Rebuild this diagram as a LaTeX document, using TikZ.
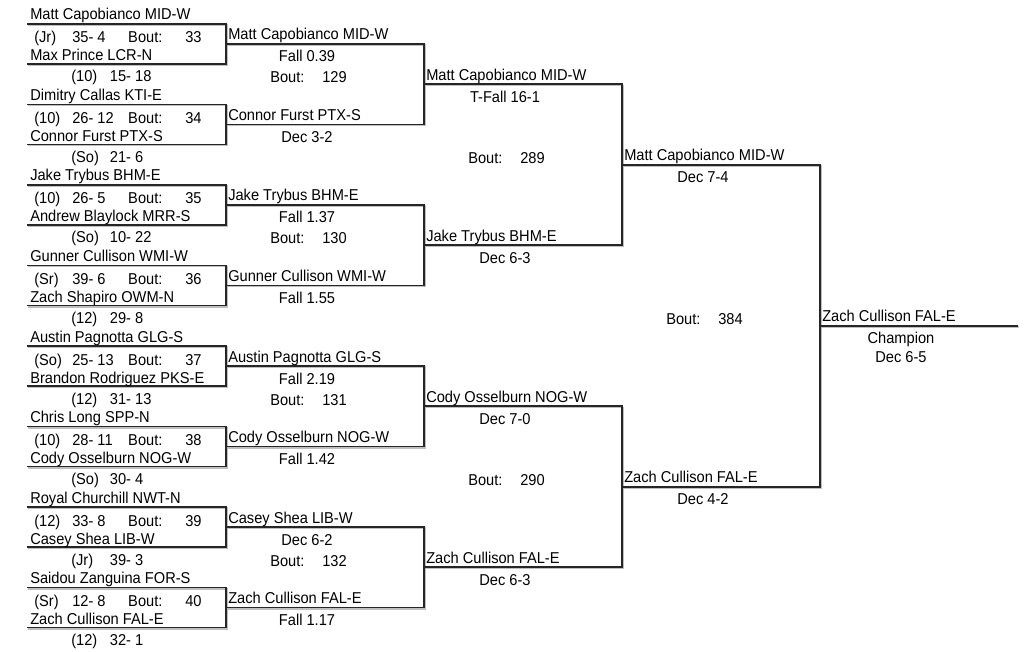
\documentclass[tikz,border=0pt]{standalone}
\usepackage{fontspec}
\setmainfont{Liberation Sans}[FakeStretch=0.93]
\usepackage{tikz}

\begin{document}
\begin{tikzpicture}[x=0.75pt, y=-0.75pt,
    every node/.style={font=\fontsize{11.8}{14}\selectfont, inner sep=0pt},
    nm/.style={anchor=base west},
    res/.style={anchor=base},
    brk/.style={draw=black!85, line width=1.2pt,
      preaction={draw=black!25, line width=1.2pt, transform canvas={shift={(1.2,1.2)}}}}]
    \useasboundingbox (0,0) rectangle (1024,652);
    % Slots
    \coordinate (p1) at (27,24);     \coordinate (p2) at (27,64);
    \coordinate (p3) at (27,104.5);  \coordinate (p4) at (27,144.5);
    \coordinate (p5) at (27,185);    \coordinate (p6) at (27,225);
    \coordinate (p7) at (27,265.5);  \coordinate (p8) at (27,305.5);
    \coordinate (p9) at (27,346);    \coordinate (p10) at (27,386);
    \coordinate (p11) at (27,426.5); \coordinate (p12) at (27,466.5);
    \coordinate (p13) at (27,507);   \coordinate (p14) at (27,547);
    \coordinate (p15) at (27,587.5); \coordinate (p16) at (27,627.5);
    \coordinate (q1) at (226,44);    \coordinate (q2) at (226,124.5);
    \coordinate (q3) at (226,205);   \coordinate (q4) at (226,285.5);
    \coordinate (q5) at (226,366);   \coordinate (q6) at (226,446.5);
    \coordinate (q7) at (226,527);   \coordinate (q8) at (226,607.5);
    \coordinate (r1) at (424,84.25); \coordinate (r2) at (424,245.25);
    \coordinate (r3) at (424,406.25);\coordinate (r4) at (424,567.25);
    \coordinate (s1) at (622,164.75);\coordinate (s2) at (622,486.75);
    \coordinate (f) at (820,325.75); \coordinate (fe) at (1018,325.75);
    % Lines
    \draw[brk] (p1) -| (q1) |- (p2);
    \draw[brk] (p3) -| (q2) |- (p4);
    \draw[brk] (p5) -| (q3) |- (p6);
    \draw[brk] (p7) -| (q4) |- (p8);
    \draw[brk] (p9) -| (q5) |- (p10);
    \draw[brk] (p11) -| (q6) |- (p12);
    \draw[brk] (p13) -| (q7) |- (p14);
    \draw[brk] (p15) -| (q8) |- (p16);
    \draw[brk] (q1) -| (r1) |- (q2);
    \draw[brk] (q3) -| (r2) |- (q4);
    \draw[brk] (q5) -| (r3) |- (q6);
    \draw[brk] (q7) -| (r4) |- (q8);
    \draw[brk] (r1) -| (s1) |- (r2);
    \draw[brk] (r3) -| (s2) |- (r4);
    \draw[brk] (s1) -| (f) |- (s2);
    \draw[brk] (f) -- (fe);
    % First round
    \node[nm] (p1n) at (30,20) {Matt Capobianco MID-W};
    \node[nm] (p1s) at (34,43) {\makebox[28.5pt][l]{(Jr)}\makebox[42pt][l]{35- 4}\makebox[42.75pt][l]{Bout:}33};
    \node[nm] (p2n) at (30,61) {Max Prince LCR-N};
    \node[nm] (p2s) at (71,82) {\makebox[29pt][l]{(10)}15- 18};
    \node[nm] (p3n) at (30,100.5) {Dimitry Callas KTI-E};
    \node[nm] (p3s) at (34,123.5) {\makebox[28.5pt][l]{(10)}\makebox[42pt][l]{26- 12}\makebox[42.75pt][l]{Bout:}34};
    \node[nm] (p4n) at (30,141.5) {Connor Furst PTX-S};
    \node[nm] (p4s) at (71,162.5) {\makebox[29pt][l]{(So)}21- 6};
    \node[nm] (p5n) at (30,181) {Jake Trybus BHM-E};
    \node[nm] (p5s) at (34,204) {\makebox[28.5pt][l]{(10)}\makebox[42pt][l]{26- 5}\makebox[42.75pt][l]{Bout:}35};
    \node[nm] (p6n) at (30,222) {Andrew Blaylock MRR-S};
    \node[nm] (p6s) at (71,243) {\makebox[29pt][l]{(So)}10- 22};
    \node[nm] (p7n) at (30,261.5) {Gunner Cullison WMI-W};
    \node[nm] (p7s) at (34,284.5) {\makebox[28.5pt][l]{(Sr)}\makebox[42pt][l]{39- 6}\makebox[42.75pt][l]{Bout:}36};
    \node[nm] (p8n) at (30,302.5) {Zach Shapiro OWM-N};
    \node[nm] (p8s) at (71,323.5) {\makebox[29pt][l]{(12)}29- 8};
    \node[nm] (p9n) at (30,342) {Austin Pagnotta GLG-S};
    \node[nm] (p9s) at (34,365) {\makebox[28.5pt][l]{(So)}\makebox[42pt][l]{25- 13}\makebox[42.75pt][l]{Bout:}37};
    \node[nm] (p10n) at (30,383) {Brandon Rodriguez PKS-E};
    \node[nm] (p10s) at (71,404) {\makebox[29pt][l]{(12)}31- 13};
    \node[nm] (p11n) at (30,422.5) {Chris Long SPP-N};
    \node[nm] (p11s) at (34,445.5) {\makebox[28.5pt][l]{(10)}\makebox[42pt][l]{28- 11}\makebox[42.75pt][l]{Bout:}38};
    \node[nm] (p12n) at (30,463.5) {Cody Osselburn NOG-W};
    \node[nm] (p12s) at (71,484.5) {\makebox[29pt][l]{(So)}30- 4};
    \node[nm] (p13n) at (30,503) {Royal Churchill NWT-N};
    \node[nm] (p13s) at (34,526) {\makebox[28.5pt][l]{(12)}\makebox[42pt][l]{33- 8}\makebox[42.75pt][l]{Bout:}39};
    \node[nm] (p14n) at (30,544) {Casey Shea LIB-W};
    \node[nm] (p14s) at (71,565) {\makebox[29pt][l]{(Jr)}39- 3};
    \node[nm] (p15n) at (30,583.5) {Saidou Zanguina FOR-S};
    \node[nm] (p15s) at (34,606.5) {\makebox[28.5pt][l]{(Sr)}\makebox[42pt][l]{12- 8}\makebox[42.75pt][l]{Bout:}40};
    \node[nm] (p16n) at (30,624.5) {Zach Cullison FAL-E};
    \node[nm] (p16s) at (71,645.5) {\makebox[29pt][l]{(12)}32- 1};
    % Second round
    \node[nm] (q1n) at (228,40) {Matt Capobianco MID-W};
    \node[res] (q1r) at (307,62) {Fall 0.39};
    \node[nm] (bt129) at (270,83) {\makebox[39pt][l]{Bout:}129};
    \node[nm] (q2n) at (228,120.5) {Connor Furst PTX-S};
    \node[res] (q2r) at (307,142.5) {Dec 3-2};
    \node[nm] (q3n) at (228,201) {Jake Trybus BHM-E};
    \node[res] (q3r) at (307,223) {Fall 1.37};
    \node[nm] (bt130) at (270,244) {\makebox[39pt][l]{Bout:}130};
    \node[nm] (q4n) at (228,281.5) {Gunner Cullison WMI-W};
    \node[res] (q4r) at (307,303.5) {Fall 1.55};
    \node[nm] (q5n) at (228,362) {Austin Pagnotta GLG-S};
    \node[res] (q5r) at (307,384) {Fall 2.19};
    \node[nm] (bt131) at (270,405) {\makebox[39pt][l]{Bout:}131};
    \node[nm] (q6n) at (228,442.5) {Cody Osselburn NOG-W};
    \node[res] (q6r) at (307,464.5) {Fall 1.42};
    \node[nm] (q7n) at (228,523) {Casey Shea LIB-W};
    \node[res] (q7r) at (307,545) {Dec 6-2};
    \node[nm] (bt132) at (270,566) {\makebox[39pt][l]{Bout:}132};
    \node[nm] (q8n) at (228,603.5) {Zach Cullison FAL-E};
    \node[res] (q8r) at (307,625.5) {Fall 1.17};
    % Quarter and semi
    \node[nm] (r1n) at (426,80.25) {Matt Capobianco MID-W};
    \node[res] (r1r) at (505,102.25) {T-Fall 16-1};
    \node[nm] (bt289) at (468,163.5) {\makebox[39pt][l]{Bout:}289};
    \node[nm] (r2n) at (426,241.25) {Jake Trybus BHM-E};
    \node[res] (r2r) at (505,263.25) {Dec 6-3};
    \node[nm] (r3n) at (426,402.25) {Cody Osselburn NOG-W};
    \node[res] (r3r) at (505,424.25) {Dec 7-0};
    \node[nm] (bt290) at (468,485.5) {\makebox[39pt][l]{Bout:}290};
    \node[nm] (r4n) at (426,563.25) {Zach Cullison FAL-E};
    \node[res] (r4r) at (505,585.25) {Dec 6-3};
    \node[nm] (s1n) at (624,160.75) {Matt Capobianco MID-W};
    \node[res] (s1r) at (703,182.75) {Dec 7-4};
    \node[nm] (bt384) at (666,324.5) {\makebox[39pt][l]{Bout:}384};
    \node[nm] (s2n) at (624,482.75) {Zach Cullison FAL-E};
    \node[res] (s2r) at (703,504.75) {Dec 4-2};
    % Final
    \node[nm] (fn) at (822,321.75) {Zach Cullison FAL-E};
    \node[res] (fc) at (901,343.75) {Champion};
    \node[res] (fr) at (901,362.75) {Dec 6-5};
\end{tikzpicture}
\end{document}
